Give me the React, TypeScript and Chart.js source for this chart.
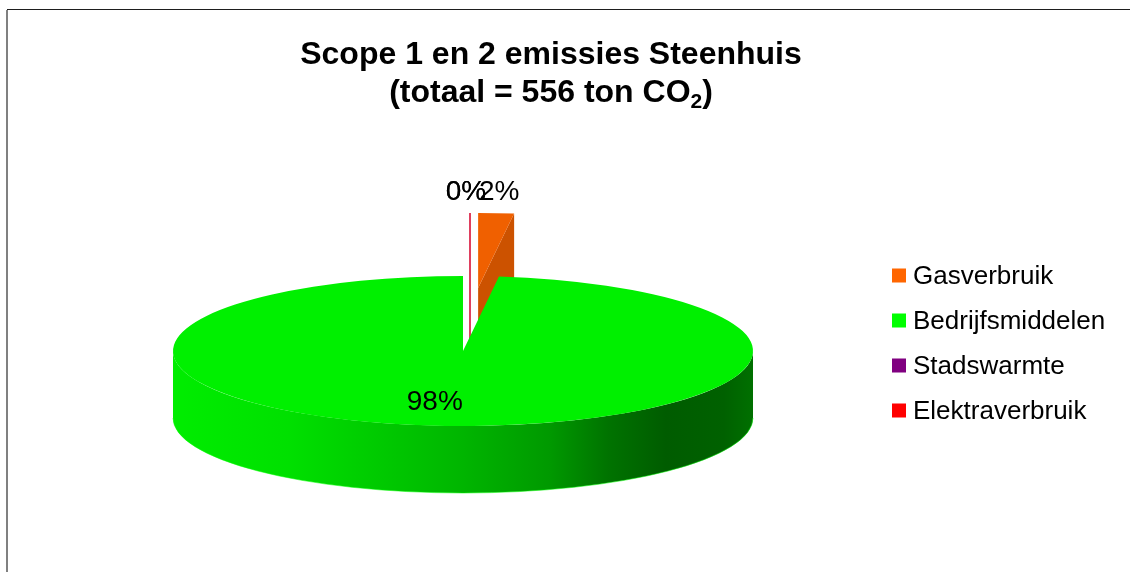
import React, { useEffect, useRef } from 'react';
import { Chart, registerables } from 'chart.js';

Chart.register(...registerables);

// ---- data ----
const CATEGORIES = ['Gasverbruik', 'Bedrijfsmiddelen', 'Stadswarmte', 'Elektraverbruik'];
const EMISSIONS_TON = [11, 545, 0, 0];
const SLICE_COLORS = ['#FF6600', '#00FF00', '#800080', '#FF0000'];
const EXPLODE_OFFSET = [244, 0, 244, 244];
const TITLE_LINE1 = 'Scope 1 en 2 emissies Steenhuis';
const TITLE_LINE2_MAIN = '(totaal = 556 ton CO';
const TITLE_LINE2_SUB = '2';
const TITLE_LINE2_END = ')';

// ---- look ----
const FONT = '"Liberation Sans", Arial, Helvetica, sans-serif';
const TILT = 75 / 290; // vertical squash of the pie top
const DEPTH = 67; // thickness of the pie
const SIDE_STOPS: [number, number][] = [
  [0, 0.93], [0.2, 0.88], [0.5, 0.71], [0.65, 0.6], [0.75, 0.45], [0.85, 0.36], [0.95, 0.38], [1, 0.44],
];

function rgbOf(hex: string) {
  const h = hex.replace('#', '');
  return [parseInt(h.slice(0, 2), 16), parseInt(h.slice(2, 4), 16), parseInt(h.slice(4, 6), 16)];
}
function shade(hex: string, f: number) {
  const [r, g, b] = rgbOf(hex);
  const c = (v: number) => Math.max(0, Math.min(255, Math.round(v * f)));
  return `rgb(${c(r)},${c(g)},${c(b)})`;
}

const pie3d = {
  id: 'pie3d',
  beforeDatasetsDraw(chart: any) {
    const ctx: CanvasRenderingContext2D = chart.ctx;
    const meta = chart.getDatasetMeta(0);
    const values: number[] = chart.data.datasets[0].data;
    const total = values.reduce((s: number, v: number) => s + v, 0);
    const items = meta.data.map((el: any, i: number) => {
      const p = el.getProps(['x', 'y', 'startAngle', 'endAngle', 'outerRadius', 'circumference'], true);
      const off = el.options.offset || 0;
      const mid = (p.startAngle + p.endAngle) / 2;
      const rx = p.outerRadius;
      const ry = p.outerRadius * TILT;
      const cx = p.x + Math.cos(mid) * off;
      const cy = p.y + Math.sin(mid) * off * TILT;
      return { i, cx, cy, rx, ry, a: p.startAngle, b: p.endAngle, mid, circ: p.circumference, color: el.options.backgroundColor };
    });
    const order = [...items].sort((A: any, B: any) => (A.cy + Math.sin(A.mid) * A.ry * 0.5) - (B.cy + Math.sin(B.mid) * B.ry * 0.5));

    ctx.save();
    for (const it of order) {
      const { cx, cy, rx, ry, a, b, color, circ } = it;
      if (circ < 1e-6) {
        // zero-sized slice: just an edge line
        const ex = cx + rx * Math.cos(a);
        const ey = cy + ry * Math.sin(a);
        ctx.strokeStyle = color;
        ctx.globalAlpha = 0.5;
        ctx.lineWidth = 2;
        ctx.beginPath();
        ctx.moveTo(ex + 7, ey);
        ctx.lineTo(cx + 7, cy + DEPTH);
        ctx.stroke();
        ctx.globalAlpha = 1;
        continue;
      }
      // radial faces
      const face = (ang: number) => {
        const ex = cx + rx * Math.cos(ang);
        const ey = cy + ry * Math.sin(ang);
        ctx.beginPath();
        ctx.moveTo(cx, cy);
        ctx.lineTo(ex, ey);
        ctx.lineTo(ex, ey + DEPTH);
        ctx.lineTo(cx, cy + DEPTH);
        ctx.closePath();
        ctx.fillStyle = shade(color, 0.8);
        ctx.fill();
      };
      if (Math.cos(a) < -1e-6) face(a);
      if (Math.cos(b) > 1e-6) face(b);
      // outer rim (front half only)
      for (let k = -1; k <= 1; k++) {
        const lo = Math.max(a, 2 * Math.PI * k);
        const hi = Math.min(b, 2 * Math.PI * k + Math.PI);
        if (hi - lo <= 1e-6) continue;
        const g = ctx.createLinearGradient(cx - rx, 0, cx + rx, 0);
        for (const [s, f] of SIDE_STOPS) g.addColorStop(s, shade(color, f));
        ctx.beginPath();
        ctx.ellipse(cx, cy, rx, ry, 0, lo, hi, false);
        ctx.ellipse(cx, cy + DEPTH, rx, ry, 0, hi, lo, true);
        ctx.closePath();
        ctx.fillStyle = g;
        ctx.fill();
        ctx.strokeStyle = shade(color, 1.0);
        ctx.globalAlpha = 0.5;
        ctx.lineWidth = 1;
        ctx.beginPath();
        ctx.ellipse(cx, cy + DEPTH, rx, ry, 0, lo, hi, false);
        ctx.stroke();
        ctx.globalAlpha = 1;
      }
      // top face
      ctx.beginPath();
      ctx.moveTo(cx, cy);
      ctx.ellipse(cx, cy, rx, ry, 0, a, b, false);
      ctx.closePath();
      ctx.fillStyle = shade(color, 0.94);
      ctx.fill();
    }

    // percentage labels
    ctx.fillStyle = '#000';
    ctx.font = `28px ${FONT}`;
    ctx.textAlign = 'center';
    ctx.textBaseline = 'middle';
    for (const it of items) {
      const pct = total ? Math.round((values[it.i] / total) * 100) : 0;
      const txt = `${pct}%`;
      if (pct >= 10) {
        ctx.fillText(txt, it.cx + it.rx * 0.68 * Math.cos(it.mid) - 16, it.cy + it.ry * 0.68 * Math.sin(it.mid));
      } else {
        const px = it.cx + it.rx * Math.cos(it.mid);
        const py = it.cy + it.ry * Math.sin(it.mid);
        ctx.fillText(txt, px + 3, py - 21);
      }
    }
    ctx.restore();
    return false;
  },
};

const decorations = {
  id: 'decorations',
  afterDraw(chart: any) {
    const ctx: CanvasRenderingContext2D = chart.ctx;
    ctx.save();
    // frame
    ctx.fillStyle = '#1e1e1e';
    ctx.fillRect(7, 9, chart.width - 7, 1);
    ctx.fillStyle = '#808080';
    ctx.fillRect(6, 10, 2, chart.height - 10);

    // title
    ctx.fillStyle = '#000';
    ctx.textBaseline = 'alphabetic';
    ctx.textAlign = 'center';
    const fMain = `bold 32px ${FONT}`;
    const fSub = `bold 21px ${FONT}`;
    ctx.font = fMain;
    const tcx = 551;
    ctx.fillText(TITLE_LINE1, tcx, 64);
    const w1 = ctx.measureText(TITLE_LINE2_MAIN).width;
    const w3 = ctx.measureText(TITLE_LINE2_END).width;
    ctx.font = fSub;
    const w2 = ctx.measureText(TITLE_LINE2_SUB).width;
    let x = tcx - (w1 + w2 + w3) / 2;
    ctx.textAlign = 'left';
    ctx.font = fMain;
    ctx.fillText(TITLE_LINE2_MAIN, x, 102);
    x += w1;
    ctx.font = fSub;
    ctx.fillText(TITLE_LINE2_SUB, x, 108);
    x += w2;
    ctx.font = fMain;
    ctx.fillText(TITLE_LINE2_END, x, 102);

    // legend
    ctx.font = `26px ${FONT}`;
    ctx.textBaseline = 'middle';
    CATEGORIES.forEach((name, i) => {
      const y = 275.5 + i * 45;
      ctx.fillStyle = SLICE_COLORS[i];
      ctx.fillRect(892, y - 7, 14, 14);
      ctx.fillStyle = '#000';
      ctx.fillText(name, 913, y + 1);
    });
    ctx.restore();
  },
};

export default function App() {
  const ref = useRef<HTMLCanvasElement | null>(null);
  useEffect(() => {
    if (!ref.current) return;
    const chart = new Chart(ref.current, {
      type: 'pie',
      data: {
        labels: CATEGORIES,
        datasets: [
          {
            data: EMISSIONS_TON,
            backgroundColor: SLICE_COLORS,
            offset: EXPLODE_OFFSET,
            borderWidth: 0,
          },
        ],
      },
      options: {
        animation: false,
        responsive: true,
        maintainAspectRatio: false,
        radius: 290,
        events: [],
        layout: { padding: { left: 0, right: 204, top: 130, bottom: 0 } },
        plugins: {
          legend: { display: false },
          title: { display: false },
          tooltip: { enabled: false },
        },
      } as any,
      plugins: [pie3d, decorations],
    });
    return () => chart.destroy();
  }, []);
  return (
    <div style={{ position: 'fixed', left: 0, top: 0, width: 1130, height: 572, background: '#fff' }}>
      <canvas ref={ref} />
    </div>
  );
}
